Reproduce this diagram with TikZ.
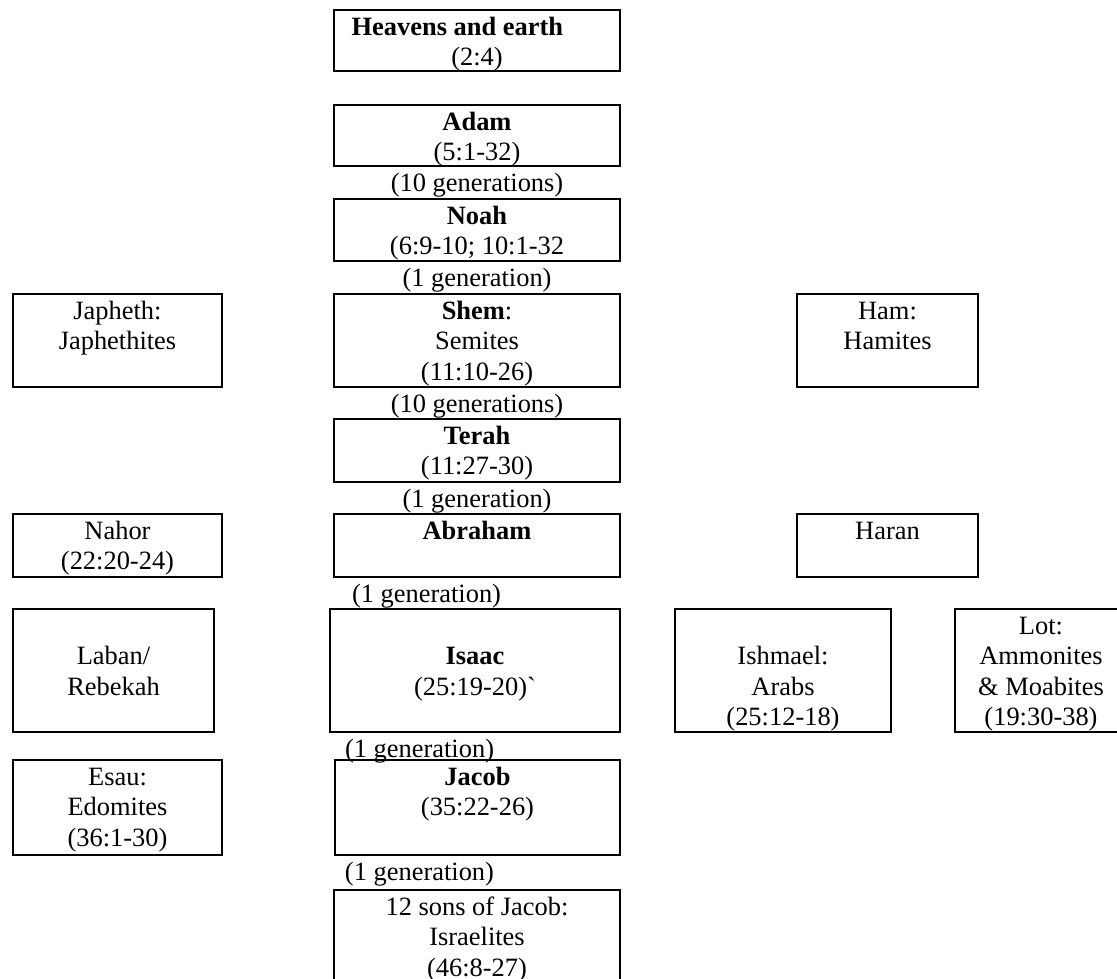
\documentclass[tikz,border=0pt]{standalone}
\usepackage{fontspec}
\setmainfont{Liberation Serif}
\usetikzlibrary{positioning,fit}
\newcommand{\rowstrut}{\rule[-3.9pt]{0pt}{21.7pt}}

\tikzset{
    famcard/.style={draw, line width=1.6pt, inner sep=0pt, outer sep=0pt},
    cardtext/.style={inner sep=0pt, outer sep=0pt, align=center},
    gentag/.style={inner sep=0pt, outer sep=0pt, execute at begin node=\rowstrut}
}

\begin{document}
\begin{tikzpicture}[x=0.025cm,y=-0.025cm,
        every node/.style={font=\fontsize{18.8pt}{21.7pt}\selectfont}]

        \useasboundingbox (0,0) rectangle (1117,979);
        \fill[white] (0,0) rectangle (1117,979);

        % Main line, top to bottom
        \node[famcard, fit={(334,10) (620,71)}] (heaven) {};
        \node[famcard, fit={(334,105) (620,166)}] (adam) {};
        \node[famcard, fit={(334,199) (620,261)}] (noah) {};
        \node[famcard, fit={(334,294) (620,387)}] (shem) {};
        \node[famcard, fit={(334,419) (620,482)}] (terah) {};
        \node[famcard, fit={(334,514) (620,577)}] (abraham) {};
        \node[famcard, fit={(330,609) (620,732)}] (isaac) {};
        \node[famcard, fit={(335,760) (620,855)}] (jacob) {};
        \node[famcard, fit={(334,890) (620,983)}] (sons) {};

        % (\rowstrut opens the first row of each text)
        \node[cardtext, below=0pt of heaven.north] (heaventext) {\rowstrut\textbf{Heavens and earth}\hspace*{28pt}\\(2:4)};
        \node[cardtext, below=0pt of adam.north] (adamtext) {\rowstrut\textbf{Adam}\\(5:1-32)};
        \node[cardtext, below=0pt of noah.north] (noahtext) {\rowstrut\textbf{Noah}\\(6:9-10; 10:1-32};
        \node[cardtext, below=0pt of shem.north] (shemtext) {\rowstrut\textbf{Shem}:\\Semites\\(11:10-26)};
        \node[cardtext, below=0pt of terah.north] (terahtext) {\rowstrut\textbf{Terah}\\(11:27-30)};
        \node[cardtext, below=0pt of abraham.north] (abrahamtext) {\rowstrut\textbf{Abraham}};
        \node[cardtext, below=0pt of isaac.north] (isaactext) {\rowstrut~\\\textbf{Isaac}\\(25:19-20)\textasciigrave};
        \node[cardtext, below=0pt of jacob.north] (jacobtext) {\rowstrut\textbf{Jacob}\\(35:22-26)};
        \node[cardtext, below=0pt of sons.north] (sonstext) {\rowstrut 12 sons of Jacob:\\Israelites\\(46:8-27)};

        % Generations between the boxes
        \node[gentag, below=0pt of adam] (gen1) {(10 generations)};
        \node[gentag, below=0pt of noah] (gen2) {(1 generation)};
        \node[gentag, below=0pt of shem] (gen3) {(10 generations)};
        \node[gentag, below=0pt of terah] (gen4) {(1 generation)};
        \node[gentag, below=0pt of abraham.south west, anchor=north west, xshift=12.8pt] (gen5) {(1 generation)};
        \node[gentag, below=0pt of isaac.south west, anchor=north west, xshift=10.7pt] (gen6) {(1 generation)};
        \node[gentag, below=0pt of jacob.south west, anchor=north west, xshift=7.1pt] (gen7) {(1 generation)};

        % Side lines, left
        \node[famcard, fit={(13,294) (222,387)}] (japheth) {};
        \node[famcard, fit={(13,514) (222,577)}] (nahor) {};
        \node[famcard, fit={(13,609) (214,732)}] (laban) {};
        \node[famcard, fit={(13,760) (222,855)}] (esau) {};

        \node[cardtext, below=0pt of japheth.north] (japhethtext) {\rowstrut Japheth:\\Japhethites};
        \node[cardtext, below=0pt of nahor.north] (nahortext) {\rowstrut Nahor\\(22:20-24)};
        \node[cardtext, below=0pt of laban.north] (labantext) {\rowstrut~\\Laban/\\Rebekah};
        \node[cardtext, below=0pt of esau.north] (esautext) {\rowstrut Esau:\\Edomites\\(36:1-30)};

        % Side lines, right
        \node[famcard, fit={(797,294) (978,387)}] (ham) {};
        \node[famcard, fit={(797,514) (978,577)}] (haran) {};
        \node[famcard, fit={(675,609) (891,732)}] (ishmael) {};
        \node[famcard, fit={(955,609) (1127,732)}] (lot) {};

        \node[cardtext, below=0pt of ham.north] (hamtext) {\rowstrut Ham:\\Hamites};
        \node[cardtext, below=0pt of haran.north] (harantext) {\rowstrut Haran};
        \node[cardtext, below=0pt of ishmael.north] (ishmaeltext) {\rowstrut~\\Ishmael:\\Arabs\\(25:12-18)};
        \node[cardtext, below=0pt of lot.north] (lottext) {\rowstrut Lot:\\Ammonites\\\& Moabites\\(19:30-38)};
    \end{tikzpicture}
\end{document}
